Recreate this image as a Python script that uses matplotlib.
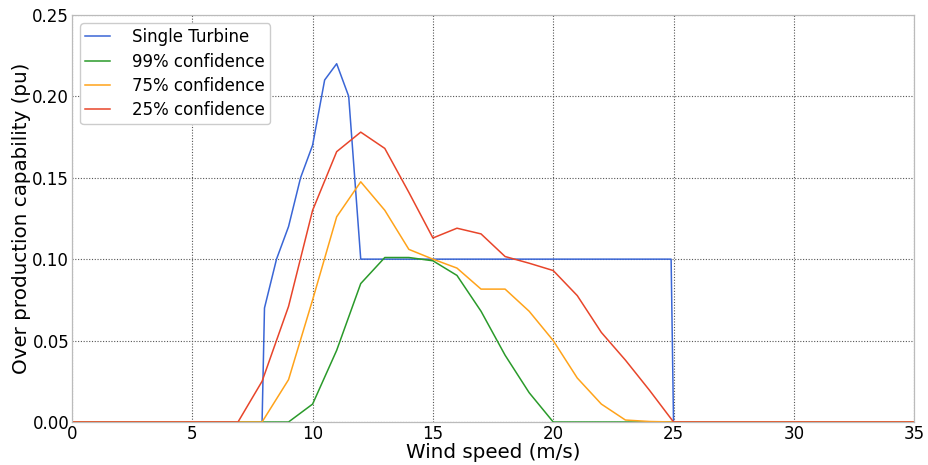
import matplotlib
matplotlib.use("Agg")
import matplotlib.pyplot as plt

# Single turbine
st_x = [0, 7.9, 8.0, 8.5, 9.0, 9.5, 10.0, 10.5, 11.0, 11.5, 12.0, 24.9, 25.0, 35]
st_y = [0, 0, 0.07, 0.10, 0.12, 0.15, 0.17, 0.21, 0.22, 0.20, 0.10, 0.10, 0.0, 0]

# 99% confidence
c99_x = [0, 9, 10, 11, 12, 13, 14, 15, 16, 17, 18, 19, 20, 35]
c99_y = [0, 0, 0.011, 0.044, 0.085, 0.101, 0.101, 0.099, 0.090, 0.068, 0.041, 0.018, 0.0, 0]

# 75% confidence
c75_x = [0, 7.9, 9, 10, 11, 12, 13, 14, 15, 16, 17, 18, 19, 20, 21, 22, 23, 24, 25, 35]
c75_y = [0, 0, 0.026, 0.075, 0.126, 0.1475, 0.130, 0.106, 0.100, 0.0945, 0.0816, 0.0816,
         0.068, 0.050, 0.027, 0.011, 0.0012, 0.0003, 0.0, 0]

# 25% confidence
c25_x = [0, 6.9, 7.9, 9, 10, 11, 12, 13, 14, 15, 16, 17, 18, 19, 20, 21, 22, 23, 24, 25, 35]
c25_y = [0, 0, 0.025, 0.071, 0.130, 0.166, 0.178, 0.168, 0.141, 0.113, 0.119, 0.1155,
         0.1016, 0.0975, 0.093, 0.0776, 0.055, 0.038, 0.0195, 0.0, 0]

labels = ["Single Turbine", "99% confidence", "75% confidence", "25% confidence"]
colors = ["#3a66d6", "#2a9a2a", "#ffa31a", "#e8452a"]

fig = plt.figure(figsize=(9.29, 4.65), dpi=100)
ax = fig.add_axes([0.0775, 0.0925, 0.9065, 0.8755])

for (xs, ys), lab, col in zip([(st_x, st_y), (c99_x, c99_y), (c75_x, c75_y), (c25_x, c25_y)],
                              labels, colors):
    ax.plot(xs, ys, color=col, lw=1.1, label=lab)

ax.set_xlim(0, 35)
ax.set_ylim(0, 0.25)
ax.set_xticks([0, 5, 10, 15, 20, 25, 30, 35])
ax.set_yticks([0.0, 0.05, 0.10, 0.15, 0.20, 0.25])
ax.set_yticklabels(["0.00", "0.05", "0.10", "0.15", "0.20", "0.25"])
ax.grid(True, color="#555555", linestyle=(0, (1, 1.5)), lw=0.8)
ax.tick_params(axis="both", labelsize=12, length=0, pad=2)
for s in ax.spines.values():
    s.set_color("#bbbbbb")
    s.set_linewidth(0.9)

ax.set_xlabel("Wind speed (m/s)", fontsize=14.3, labelpad=0)
ax.set_ylabel("Over production capability (pu)", fontsize=14.3, labelpad=1)

leg = ax.legend(loc="upper left", fontsize=12, fancybox=True, framealpha=1,
                edgecolor="#cccccc", handlelength=1.5, handletextpad=1.3,
                borderpad=0.3, labelspacing=0.38, borderaxespad=0.5)

fig.savefig("out.png", dpi=100)
